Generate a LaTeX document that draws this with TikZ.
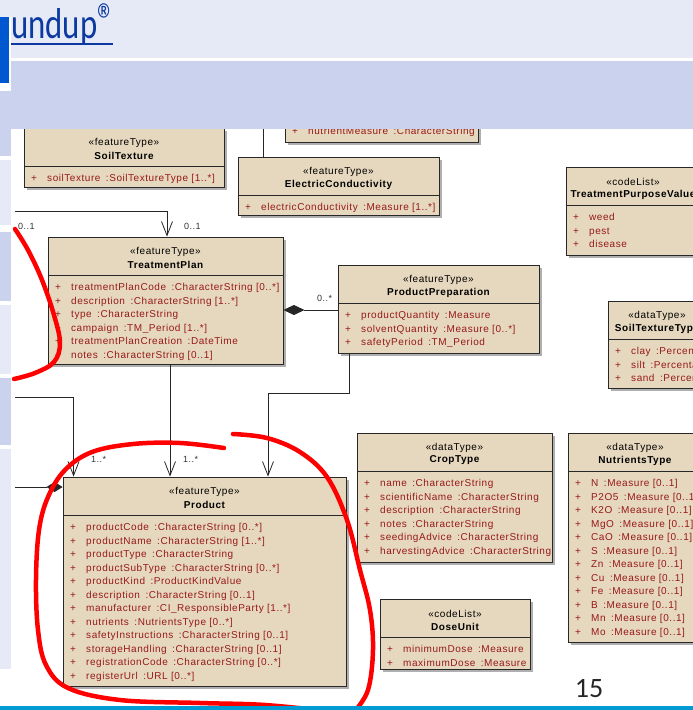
\documentclass[tikz,border=0pt]{standalone}
\usepackage{fontspec}
\setmainfont{Liberation Sans}
\newfontfamily\umlfont[LetterSpace=5.5]{Liberation Sans}
\newfontfamily\calfont{Carlito}
\usetikzlibrary{arrows.meta,fit}
\definecolor{boxfill}{RGB}{230,216,190}
\definecolor{boxedge}{RGB}{40,40,40}
\definecolor{shadowc}{RGB}{175,175,175}
\definecolor{attrc}{RGB}{150,25,25}
\definecolor{bandc}{RGB}{203,210,238}
\definecolor{lightc}{RGB}{230,233,246}
\definecolor{bluec}{RGB}{0,88,208}
\definecolor{titlec}{RGB}{12,58,160}
\definecolor{cyanc}{RGB}{0,155,210}
\definecolor{penred}{RGB}{255,0,0}
\newcommand{\asep}{\hspace{5.5pt}}
\tikzset{
 boxn/.style={draw=boxedge, fill=boxfill, line width=0.9pt, inner sep=0pt},
 boxline/.style={draw=boxedge, line width=0.9pt},
 stereo/.style={font=\umlfont\fontsize{10}{12}\selectfont, text=black, inner sep=0pt},
 cname/.style={font=\umlfont\bfseries\fontsize{10}{12}\selectfont, text=black, inner sep=0pt},
 attr/.style={font=\umlfont\fontsize{10}{12}\selectfont, text=attrc, inner sep=0pt},
 conn/.style={draw=black!85, line width=0.8pt},
 barb/.style={-{Straight Barb[length=14pt,width=11pt]}},
 mult/.style={font=\umlfont\fontsize{9}{11}\selectfont, text=black!80, inner sep=0pt, anchor=base west},
 redpen/.style={draw=penred, line width=4.5pt, line cap=round, line join=round},
}
\newcommand{\umlclass}[8]{%
 \fill[shadowc] (#2+3,#3+3) rectangle (#4+3,#5+3);
 \node[boxn, fit={(#2,#3) (#4,#5)}] (#1) {};
 \draw[boxline] (#2,#3+38) -- (#4,#3+38);
 \node[stereo] at ({(#2+#4)/2},#3+15) {«#6»};
 \node[cname] at ({(#2+#4)/2},#3+27.5) {#7};
 \foreach \myattr [count=\myidx] in {#8} {
   \node[attr, anchor=base west] at (#2+7, #3+40+13.5*\myidx) {\makebox[16pt][l]{+}\myattr};
 }%
}
\begin{document}
\begin{tikzpicture}[x=1pt,y=-1pt]
\useasboundingbox (0,0) rectangle (693,710);
\fill[white] (0,0) rectangle (693,710);

% partially hidden box at top
\fill[shadowc] (288,68) rectangle (481,145);
\node[boxn, fit={(285,65) (478,142)}] (nm) {};
\node[attr, anchor=base west] at (292,134.5) {\makebox[16pt][l]{+}nutrientMeasure\asep:CharacterString};

\umlclass{soil}{24}{128}{224}{187}{featureType}{SoilTexture}{{soilTexture\asep:SoilTextureType [1..*]}}
\umlclass{ec}{238}{157}{439}{215}{featureType}{ElectricConductivity}{{electricConductivity\asep:Measure [1..*]}}
\umlclass{tpv}{566}{167}{700}{255}{codeList}{TreatmentPurposeValue}{weed,pest,disease}
\umlclass{tp}{48}{237}{283}{364}{featureType}{TreatmentPlan}{{treatmentPlanCode\asep:CharacterString [0..*]},{description\asep:CharacterString [1..*]},{type\asep:CharacterString},{campaign\asep:TM\_Period [1..*]},{treatmentPlanCreation\asep:DateTime},{notes\asep:CharacterString [0..1]}}
\umlclass{pp}{338}{265}{539}{353}{featureType}{ProductPreparation}{{productQuantity\asep:Measure},{solventQuantity\asep:Measure [0..*]},{safetyPeriod\asep:TM\_Period}}
\umlclass{stt}{608}{301}{706}{388}{dataType}{SoilTextureType}{{clay\asep:Percentage},{silt\asep:Percentage},{sand\asep:Percentage}}
\umlclass{product}{63}{477}{346}{686}{featureType}{Product}{{productCode\asep:CharacterString [0..*]},{productName\asep:CharacterString [1..*]},{productType\asep:CharacterString},{productSubType\asep:CharacterString [0..*]},{productKind\asep:ProductKindValue},{description\asep:CharacterString [0..1]},{manufacturer\asep:CI\_ResponsibleParty [1..*]},{nutrients\asep:NutrientsType [0..*]},{safetyInstructions\asep:CharacterString [0..1]},{storageHandling\asep:CharacterString [0..1]},{registrationCode\asep:CharacterString [0..*]},{registerUrl\asep:URL [0..*]}}
\umlclass{crop}{357}{433}{552}{562}{dataType}{CropType}{{name\asep:CharacterString},{scientificName\asep:CharacterString},{description\asep:CharacterString},{notes\asep:CharacterString},{seedingAdvice\asep:CharacterString},{harvestingAdvice\asep:CharacterString}}
\umlclass{nut}{568}{433}{702}{642}{dataType}{NutrientsType}{{N\asep:Measure [0..1]},{P2O5\asep:Measure [0..1]},{K2O\asep:Measure [0..1]},{MgO\asep:Measure [0..1]},{CaO\asep:Measure [0..1]},{S\asep:Measure [0..1]},{Zn\asep:Measure [0..1]},{Cu\asep:Measure [0..1]},{Fe\asep:Measure [0..1]},{B\asep:Measure [0..1]},{Mn\asep:Measure [0..1]},{Mo\asep:Measure [0..1]}}
\umlclass{dose}{380}{599}{530}{669}{codeList}{DoseUnit}{{minimumDose\asep:Measure},{maximumDose\asep:Measure}}

% connectors
\coordinate (ectop) at (263,100);
\draw[conn] (ectop) -- (ectop |- ec.north);
\coordinate (l1) at (15,211);
\draw[conn,barb] (l1) -| ([xshift=1.5pt]tp.north);
\draw[conn,-{Diamond[length=21pt,width=10pt]}] (pp.west |- 0,310) -- (tp.east |- 0,310);
\draw[conn,barb] ([xshift=4.5pt]tp.south) -- ([xshift=4.5pt]tp.south |- product.north);
\draw[conn,barb] ([xshift=12pt]pp.south west) -- ++(0,40) -| ([xshift=63.5pt]product.north);
\coordinate (l2) at (15,397);
\draw[conn,barb] (l2) -| ([xshift=11pt]product.north west);
\coordinate (l3) at (15,487);
\draw[conn,-{Diamond[length=16pt,width=10pt]}] (l3) -- (l3 -| product.west);

\node[mult] at (18,229.5) {0..1};
\node[mult] at (184,229.5) {0..1};
\node[mult] at (317,301.5) {0..*};
\node[mult] at (91,462) {1..*};
\node[mult] at (183,462) {1..*};

% slide chrome
\fill[lightc] (0,0) rectangle (693,58);
\fill[bandc] (11,61) rectangle (693,129);
\fill[white] (9,17) rectangle (11,129);
\fill[bluec] (0,17) rectangle (9,83);
\fill[white] (0,83) rectangle (9,91);
\fill[bandc] (0,91) rectangle (11,156);
\fill[lightc] (0,160) rectangle (11,225);
\fill[bandc] (0,232) rectangle (11,301);
\fill[lightc] (0,305) rectangle (11,374);
\fill[bandc] (0,378) rectangle (11,445);
\fill[lightc] (0,449) rectangle (11,669);
\node[font=\calfont\fontsize{40}{40}\selectfont, text=titlec, anchor=base west, inner sep=0pt, xscale=0.82, yscale=1.08, transform shape] (title) at (11,38) {undup\raisebox{1pt}{\fontsize{44}{44}\selectfont ®}};
\draw[titlec, line width=2.4pt] (11,44) -- (113,44);

% red annotation strokes
\draw[redpen] plot[smooth, tension=0.6] coordinates {(15,229) (28,250) (42,280) (54,315) (60,343) (54,362) (35,373) (14,379)};
\draw[redpen] plot[smooth, tension=0.6] coordinates {(224,448) (180,443) (133,444) (92,452) (65,470) (48,497) (39,530) (36,580) (38,630) (46,665) (68,688) (120,700) (200,703) (265,705) (335,712)};
\draw[redpen] plot[smooth, tension=0.6] coordinates {(233,434) (267,438) (300,452) (327,477) (347,520) (360,570) (370,610) (373,650) (368,690) (354,712)};

\node[font=\calfont\fontsize{28}{28}\selectfont, text=black!85, inner sep=0pt] (pnum) at (589,688.5) {15};
\fill[cyanc] (0,706) rectangle (693,710);
\end{tikzpicture}
\end{document}
